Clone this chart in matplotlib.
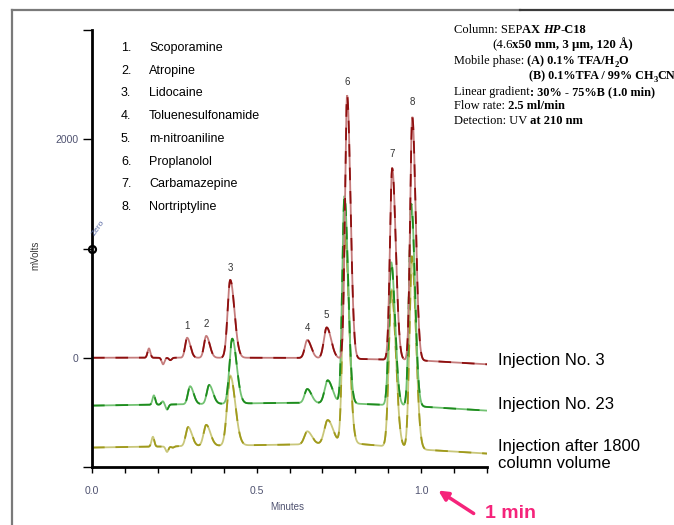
"""Recreate the SEPAX HP-C18 column stability chromatogram."""

import numpy as np
import matplotlib
matplotlib.use("Agg")
import matplotlib.pyplot as plt
from matplotlib.lines import Line2D
from matplotlib.patches import FancyArrowPatch

plt.rcParams["font.family"] = ["Liberation Sans", "DejaVu Sans"]

COMPOUNDS = ["Scoporamine", "Atropine", "Lidocaine", "Toluenesulfonamide",
             "m-nitroaniline", "Proplanolol", "Carbamazepine", "Nortriptyline"]
PEAK_LABELS = ["1", "2", "3", "4", "5", "6", "7", "8"]
TRACE_LABELS = ["Injection No. 3", "Injection No. 23",
                "Injection after 1800\ncolumn volume"]

# peaks 1-8: retention time (min), height (mV), width (min)
inj3_rt = [0.289, 0.347, 0.420, 0.654, 0.713, 0.775, 0.912, 0.973]
inj3_height = [183, 200, 712, 165, 283, 2411, 1753, 2228]
inj3_sigma = [0.0060, 0.0066, 0.0080, 0.0075, 0.0085, 0.0064, 0.0068, 0.0064]

inj23_rt = [0.298, 0.356, 0.426, 0.654, 0.716, 0.767, 0.909, 0.970]
inj23_height = [164, 173, 594, 128, 210, 1900, 1310, 1850]
inj23_sigma = [0.0066, 0.0072, 0.0084, 0.0080, 0.0092, 0.0068, 0.0072, 0.0068]

inj1800_rt = [0.292, 0.347, 0.420, 0.654, 0.716, 0.769, 0.910, 0.972]
inj1800_height = [174, 192, 640, 119, 219, 1910, 1440, 1760]
inj1800_sigma = [0.0072, 0.0080, 0.0094, 0.0088, 0.0102, 0.0075, 0.0080, 0.0075]

# void-volume disturbance near the start of each run
inj3_void_rt = [0.173, 0.216, 0.238]
inj3_void_h = [85, -60, -22]
inj23_void_rt = [0.188, 0.215, 0.228]
inj23_void_h = [85, 30, -45]
inj1800_void_rt = [0.185, 0.228, 0.245]
inj1800_void_h = [90, -50, -12]

# baseline level (mV) at a few times, with the stacking offset included
base_t = [0.0, 0.60, 0.80, 1.00, 1.20]
inj3_base = [0, 0, -10, -25, -60]
inj23_base = [-438, -412, -420, -447, -484]
inj1800_base = [-822, -795, -785, -840, -877]

TAIL = 1.6
PINK = "#f5237a"
TICK_COLOR = "#4f5270"


def build_trace(t, rts, heights, sigmas, void_rt, void_h, base):
    y = np.interp(t, base_t, base)
    for rt, h, s in zip(rts, heights, sigmas):
        s_side = np.where(t < rt, s, s * TAIL)
        y = y + h * np.exp(-0.5 * ((t - rt) / s_side) ** 2)
    for rt, h in zip(void_rt, void_h):
        y = y + h * np.exp(-0.5 * ((t - rt) / 0.0042) ** 2)
    return y


def draw_runs(fig, x_px, y_px, runs, size=9.0):
    """Draw mixed-style text pieces one after another (pixel coords)."""
    renderer = fig.canvas.get_renderer()
    W, H = fig.bbox.width, fig.bbox.height
    x = x_px
    for text, weight, style, dy, scale in runs:
        t = fig.text(x / W, 1 - (y_px - dy) / H, text,
                     fontsize=size * scale, fontweight=weight, fontstyle=style,
                     family="Liberation Serif", va="baseline", ha="left")
        x += t.get_window_extent(renderer).width


fig = plt.figure(figsize=(6.74, 5.25), dpi=100, facecolor="white")
ax = fig.add_axes([92 / 674, 1 - 467 / 525, 395 / 674, 437 / 525])

t = np.linspace(0, 1.2, 3000)
traces = [
    (inj1800_rt, inj1800_height, inj1800_sigma, inj1800_void_rt, inj1800_void_h,
     inj1800_base, "#c9c77a", "#a09a1c"),
    (inj23_rt, inj23_height, inj23_sigma, inj23_void_rt, inj23_void_h,
     inj23_base, "#72c272", "#1e8c1e"),
    (inj3_rt, inj3_height, inj3_sigma, inj3_void_rt, inj3_void_h,
     inj3_base, "#c57c7c", "#8e0f0f"),
]
for rts, hs, sg, vrt, vh, base, light, dark in traces:
    y = build_trace(t, rts, hs, sg, vrt, vh, base)
    ax.plot(t, y, color=light, lw=1.3, solid_joinstyle="miter")
    ax.plot(t, y, color=dark, lw=1.3, dashes=(7, 6))

# peak numbers above the top trace
for lab, rt, h in zip(PEAK_LABELS, inj3_rt, inj3_height):
    ax.annotate(lab, (rt, h), xytext=(0, 5), textcoords="offset points",
                ha="center", va="bottom", fontsize=7, color="#333333")

ax.set_xlim(0, 1.2)
ax.set_ylim(-1000, 3000)
ax.set_xticks(np.arange(0, 1.21, 0.1))
ax.set_xticklabels(["0.0" if i == 0 else "0.5" if i == 5 else "1.0" if i == 10 else ""
                    for i in range(13)])
ax.set_yticks([-1000, 0, 1000, 2000, 3000])
ax.set_yticklabels(["", "0", "", "2000", ""])
ax.tick_params(axis="x", length=4.5, width=1, pad=9, labelsize=7.5,
               labelcolor=TICK_COLOR)
ax.tick_params(axis="y", length=6.5, width=1, pad=3.5, labelsize=7.5,
               labelcolor=TICK_COLOR)
for side in ["top", "right"]:
    ax.spines[side].set_visible(False)
for side in ["left", "bottom"]:
    ax.spines[side].set_linewidth(2)

# odd "Zero" marker on the y axis
ax.plot([0], [1000], marker="o", ms=5, mfc="none", mec="black", mew=1.6,
        clip_on=False)
fig.text(99 / 674, 1 - 228 / 525, "Zero", rotation=55, fontsize=6,
         color="#5f6fa8", ha="center", va="center")

fig.text(35 / 674, 1 - 255 / 525, "mVolts", rotation=90, fontsize=7,
         color="#3a3a3a", ha="center", va="center")
fig.text(287 / 674, 1 - 507 / 525, "Minutes", fontsize=7, color=TICK_COLOR,
         ha="center", va="center")

# compound list
for i, name in enumerate(COMPOUNDS):
    yy = 1 - (48 + i * 22.7) / 525
    fig.text(121 / 674, yy, f"{i + 1}.", fontsize=9, va="center", ha="left")
    fig.text(149 / 674, yy, name, fontsize=9, va="center", ha="left")

# trace labels
fig.text(498 / 674, 1 - 360 / 525, TRACE_LABELS[0], fontsize=12, va="center")
fig.text(498 / 674, 1 - 405 / 525, TRACE_LABELS[1], fontsize=12, va="center")
fig.text(498 / 674, 1 - 455 / 525, TRACE_LABELS[2], fontsize=12, va="center",
         linespacing=1.25)

# method conditions
N, B = "normal", "bold"
R, I = "normal", "italic"
draw_runs(fig, 454, 33, [("Column: SEP", N, R, 0, 1), ("AX ", B, R, 0, 1),
                         ("HP", B, I, 0, 1), ("-C18", B, R, 0, 1)])
draw_runs(fig, 492, 48, [("(4.6", N, R, 0, 1),
                         ("x50 mm, 3 \u00b5m, 120 \u00c5)", B, R, 0, 1)], size=9.3)
draw_runs(fig, 454, 64, [("Mobile phase:", N, R, 0, 1),
                         (" (A) 0.1% TFA/H", B, R, 0, 1), ("2", B, R, -3, 0.7),
                         ("O", B, R, 0, 1)], size=8.8)
draw_runs(fig, 529, 79, [("(B) 0.1%TFA / 99% CH", B, R, 0, 1),
                         ("3", B, R, -3, 0.7), ("CN", B, R, 0, 1)], size=8.7)
draw_runs(fig, 454, 95, [("Linear gradient", N, R, 0, 1),
                         (": 30% - 75%B (1.0 min)", B, R, 0, 1)], size=8.8)
draw_runs(fig, 454, 109, [("Flow rate:", N, R, 0, 1),
                          (" 2.5 ml/min", B, R, 0, 1)])
draw_runs(fig, 454, 124, [("Detection: UV", N, R, 0, 1),
                          (" at 210 nm", B, R, 0, 1)])

# "1 min" callout
fig.text(485 / 674, 1 - 513 / 525, "1 min", fontsize=14, fontweight="bold",
         color=PINK, va="center", ha="left")
fig.add_artist(FancyArrowPatch((476 / 674, 1 - 515 / 525), (436 / 674, 1 - 489 / 525),
                               transform=fig.transFigure, arrowstyle="-|>",
                               mutation_scale=14, lw=2.5, color=PINK))

# outer frame from the source page
fy = 1 - 10 / 525
fig.add_artist(Line2D([12 / 674, 12 / 674], [0, fy], transform=fig.transFigure,
                      color="#7a7a7a", lw=1.6))
fig.add_artist(Line2D([12 / 674, 520 / 674], [fy, fy], transform=fig.transFigure,
                      color="#7a7a7a", lw=1.6))
fig.add_artist(Line2D([520 / 674, 1], [fy, fy], transform=fig.transFigure,
                      color="#3a3a3a", lw=1.6))

fig.savefig("out.png", dpi=100, facecolor="white")
